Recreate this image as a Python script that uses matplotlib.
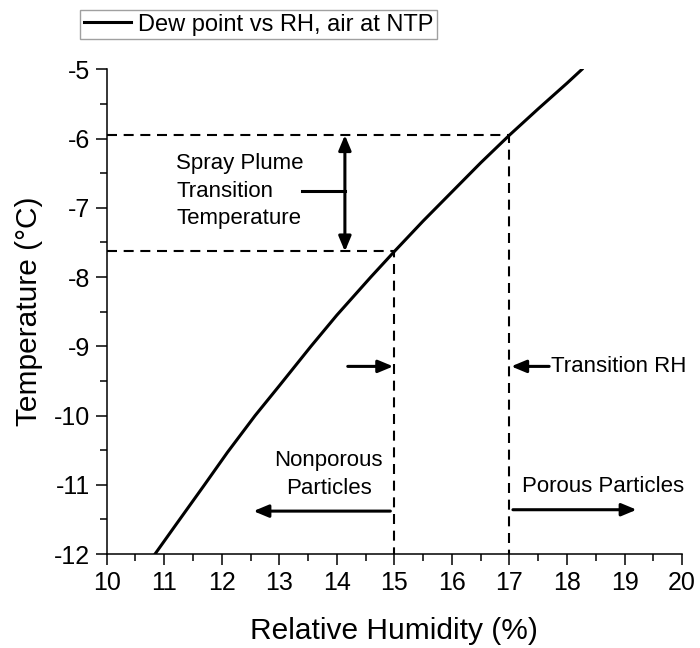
import matplotlib.pyplot as plt
from matplotlib.ticker import MultipleLocator

plt.rcParams['font.family'] = ['Liberation Sans', 'DejaVu Sans']
plt.rcParams['axes.unicode_minus'] = False

# --- Data ---
rh = [10.84, 11.2, 11.70, 12.1, 12.58, 13.0, 13.55, 14.0, 14.59, 15.0,
      15.5, 16.0, 16.5, 17.0, 17.5, 18.0, 18.26]
dew_point = [-12.0, -11.58, -11.0, -10.53, -10.0, -9.57, -9.0, -8.55, -8.0, -7.63,
             -7.19, -6.77, -6.35, -5.95, -5.57, -5.20, -5.0]

rh_nonporous = 15.0
rh_porous = 17.0
t_low = -7.63
t_high = -5.95

x_ticks = list(range(10, 21))
y_ticks = list(range(-12, -4))

fig = plt.figure(figsize=(7.0, 6.48), dpi=100)
ax = fig.add_axes([0.1524, 0.145, 0.822, 0.748])

ax.plot(rh, dew_point, color='black', lw=2.2, label='Dew point vs RH, air at NTP')

# guide lines
dash = dict(color='black', lw=1.5, ls=(0, (4.8, 3.2)))
ax.plot([10, rh_porous, rh_porous], [t_high, t_high, -12], **dash)
ax.plot([10, rh_nonporous, rh_nonporous], [t_low, t_low, -12], **dash)

head = '-|>,head_length=0.6,head_width=0.25'
both = '<|-|>,head_length=0.6,head_width=0.25'
arrow = dict(arrowstyle=head, color='black', lw=2.2, mutation_scale=15,
             shrinkA=0, shrinkB=0)

# spray plume transition temperature
ax.annotate('', xy=(14.14, t_high), xytext=(14.14, t_low),
            arrowprops=dict(arrow, arrowstyle=both))
ax.plot([13.39, 14.14], [-6.76, -6.76], color='black', lw=2.2)
ax.text(11.21, -6.76, 'Spray Plume\nTransition\nTemperature', fontsize=16,
        ha='left', va='center', linespacing=1.4)

# transition RH
ax.annotate('', xy=(14.98, -9.29), xytext=(14.19, -9.29), arrowprops=arrow)
ax.annotate('', xy=(17.03, -9.29), xytext=(17.69, -9.29), arrowprops=arrow)
ax.text(17.72, -9.29, 'Transition RH', fontsize=16, ha='left', va='center')

# particle regimes
ax.annotate('', xy=(12.55, -11.38), xytext=(14.93, -11.38), arrowprops=arrow)
ax.text(13.86, -10.85, 'Nonporous\nParticles', fontsize=16, ha='center',
        va='center', linespacing=1.4)
ax.annotate('', xy=(19.21, -11.36), xytext=(17.06, -11.36), arrowprops=arrow)
ax.text(17.21, -11.02, 'Porous Particles', fontsize=16, ha='left', va='center')

ax.set_xlim(10, 20)
ax.set_ylim(-12, -5)
ax.set_xticks(x_ticks)
ax.set_yticks(y_ticks)
ax.xaxis.set_minor_locator(MultipleLocator(0.5))
ax.yaxis.set_minor_locator(MultipleLocator(0.5))
ax.tick_params(which='major', direction='out', length=8, width=1.1,
               labelsize=18, pad=4)
ax.tick_params(which='minor', direction='out', length=5, width=1.1)

for s in ['top', 'right']:
    ax.spines[s].set_visible(False)
for s in ['left', 'bottom']:
    ax.spines[s].set_linewidth(1.1)

ax.set_xlabel('Relative Humidity (%)', fontsize=21.5, labelpad=16)
ax.set_ylabel('Temperature (°C)', fontsize=21.5, labelpad=8)

leg = ax.legend(loc='upper left', bbox_to_anchor=(-0.046, 1.122), fontsize=17,
                frameon=True, fancybox=False, handlelength=2.0,
                handletextpad=0.3, borderpad=0.15, borderaxespad=0)
leg.get_frame().set_edgecolor('#888888')
leg.get_frame().set_linewidth(1.0)

fig.savefig('out.png', dpi=100)
